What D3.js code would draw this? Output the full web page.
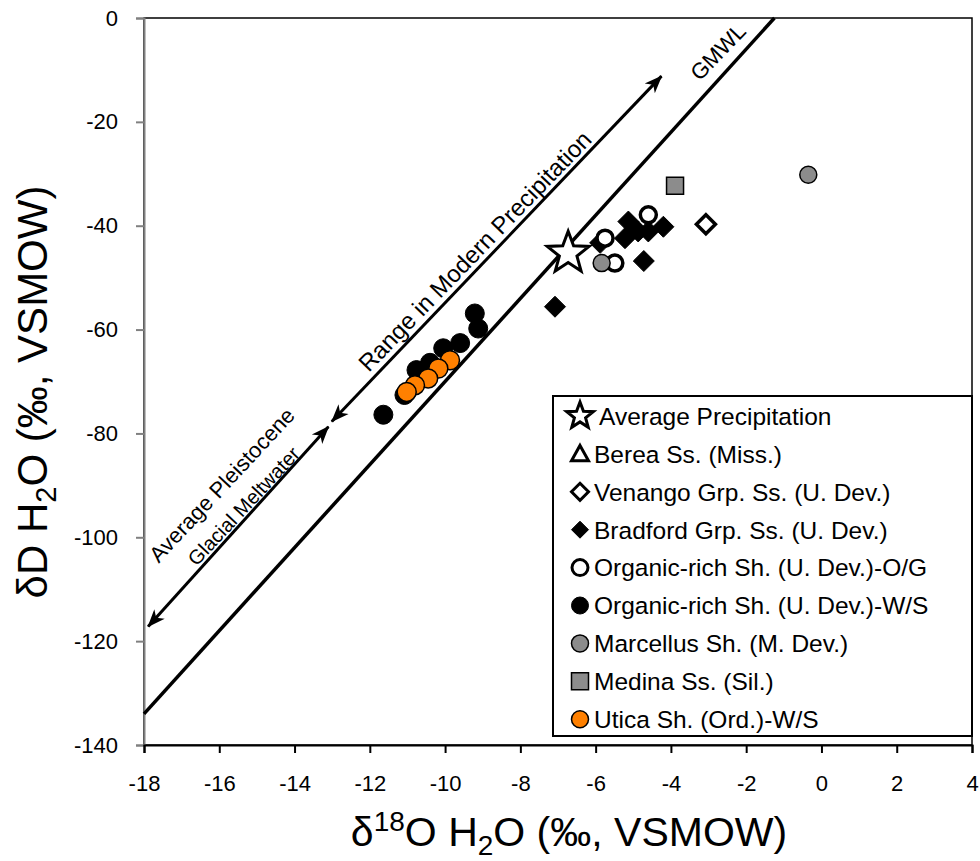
<!DOCTYPE html>
<html>
<head>
<meta charset="utf-8">
<script src="https://cdn.jsdelivr.net/npm/d3@7"></script>
<style>
  body { margin: 0; background: #fff; }
  svg text { font-family: "Liberation Sans", Arial, sans-serif; fill: #000; }
</style>
</head>
<body>
<svg id="chart" width="980" height="861"></svg>
<script>
// tick values
const xTicks = [-18, -16, -14, -12, -10, -8, -6, -4, -2, 0, 2, 4];
const yTicks = [0, -20, -40, -60, -80, -100, -120, -140];

// samples as [d18O, dD]
const avgPrecip = [[-6.73, -45.3]];
const berea = [];
const venango = [[-3.07, -39.7]];
const bradford = [[-7.08, -55.6], [-4.72, -46.8], [-5.13, -39.2], [-5.22, -42.4],
                  [-4.87, -41.1], [-4.60, -41.1], [-4.20, -40.2], [-5.88, -43.3]];
const organicOG = [[-4.60, -37.9], [-5.75, -42.4], [-5.49, -47.2]];
const organicWS = [[-9.21, -56.9], [-9.12, -59.8], [-9.60, -62.6], [-10.05, -63.6],
                   [-10.40, -66.4], [-10.76, -67.8], [-11.08, -72.6], [-11.64, -76.4]];
const marcellus = [[-0.35, -30.2], [-5.84, -47.2]];
const medina = [[-3.89, -32.3]];
const utica = [[-9.87, -65.9], [-10.18, -67.5], [-10.45, -69.4], [-10.80, -70.7], [-11.02, -72.0]];

const seriesNames = ['Average Precipitation', 'Berea Ss. (Miss.)', 'Venango Grp. Ss. (U. Dev.)',
  'Bradford Grp. Ss. (U. Dev.)', 'Organic-rich Sh. (U. Dev.)-O/G', 'Organic-rich Sh. (U. Dev.)-W/S',
  'Marcellus Sh. (M. Dev.)', 'Medina Ss. (Sil.)', 'Utica Sh. (Ord.)-W/S'];
const seriesData = [avgPrecip, berea, venango, bradford, organicOG, organicWS, marcellus, medina, utica];

// annotation lines, in data units
const gmwlRange = [-18, -1.25]; // GMWL: dD = 8 * d18O + 10
const rangeArrow = [[-13.01, -77.7], [-4.25, -11.2]];
const pleistoArrow = [[-13.10, -78.7], [-17.89, -117.2]];

const svg = d3.select('#chart');
const plotLeft = 144, plotRight = 972, plotTop = 18, plotBottom = 745;

const x = d3.scaleLinear().domain([-18, 4]).range([plotLeft, plotRight]);
const y = d3.scaleLinear().domain([-140, 0]).range([plotBottom, plotTop]);

// marker styles per series
const styles = [
  {shape: 'star', size: 22, fill: '#fff', stroke: '#000', sw: 3},
  {shape: 'triangle', size: 9, fill: '#fff', stroke: '#000', sw: 3.5},
  {shape: 'diamond', size: 9.5, fill: '#fff', stroke: '#000', sw: 3.5},
  {shape: 'diamond', size: 10.5, fill: '#000', stroke: '#000', sw: 1},
  {shape: 'circle', size: 8, fill: '#fff', stroke: '#000', sw: 3.5},
  {shape: 'circle', size: 9.5, fill: '#000', stroke: '#000', sw: 1},
  {shape: 'circle', size: 8.5, fill: '#8c8c8c', stroke: '#000', sw: 1.5},
  {shape: 'square', size: 8.5, fill: '#8c8c8c', stroke: '#000', sw: 1.5},
  {shape: 'circle', size: 9.5, fill: '#ff8000', stroke: '#000', sw: 1.5}
];

function shapePath(shape, s) {
  if (shape === 'circle') {
    const p = d3.path();
    p.arc(0, 0, s, 0, 2 * Math.PI);
    return p.toString();
  }
  if (shape === 'square') return `M${-s},${-s}H${s}V${s}H${-s}Z`;
  if (shape === 'diamond') return `M0,${-s}L${s},0L0,${s}L${-s},0Z`;
  if (shape === 'triangle') return `M0,${-s}L${s},${s * 0.8}L${-s},${s * 0.8}Z`;
  // 5 point star
  const pts = d3.range(10).map(i => {
    const r = i % 2 ? s * 0.42 : s;
    const a = -Math.PI / 2 + i * Math.PI / 5;
    return [r * Math.cos(a), r * Math.sin(a)];
  });
  return 'M' + pts.join('L') + 'Z';
}

// plot area frame
svg.append('rect')
  .attr('x', plotLeft).attr('y', plotTop)
  .attr('width', plotRight - plotLeft).attr('height', plotBottom - plotTop)
  .attr('fill', 'none').attr('stroke', '#000').attr('stroke-width', 1.5);

// axes
const yAxis = svg.append('g')
  .attr('transform', `translate(${plotLeft},0)`)
  .call(d3.axisLeft(y).tickValues(yTicks).tickSize(8).tickPadding(18).tickFormat(d => String(d)));
yAxis.select('.domain').attr('stroke', '#808080').attr('stroke-width', 2);
yAxis.selectAll('.tick line').attr('stroke', '#808080').attr('stroke-width', 2);
yAxis.selectAll('text').style('font-size', '22px').attr('fill', '#000');

const xAxis = svg.append('g')
  .attr('transform', `translate(0,${plotBottom})`)
  .call(d3.axisBottom(x).tickValues(xTicks).tickSize(8).tickPadding(22).tickFormat(d => String(d)));
xAxis.select('.domain').attr('stroke', '#000').attr('stroke-width', 2);
xAxis.selectAll('.tick line').attr('stroke', '#000').attr('stroke-width', 2);
xAxis.selectAll('text').style('font-size', '22px').attr('fill', '#000');

// arrow heads
const defs = svg.append('defs');
defs.append('marker')
  .attr('id', 'head')
  .attr('markerUnits', 'userSpaceOnUse')
  .attr('viewBox', '0 -8 18 16')
  .attr('refX', 17).attr('refY', 0)
  .attr('markerWidth', 18).attr('markerHeight', 16)
  .attr('orient', 'auto-start-reverse')
  .append('path')
  .attr('d', 'M0,-7L18,0L0,7L5,0Z')
  .attr('fill', '#000');

const plot = svg.append('g');

// GMWL
const line = d3.line().x(d => x(d[0])).y(d => y(d[1]));
plot.append('path')
  .datum(gmwlRange.map(v => [v, 8 * v + 10]))
  .attr('d', line)
  .attr('fill', 'none').attr('stroke', '#000').attr('stroke-width', 3.5);

[rangeArrow, pleistoArrow].forEach(arr => {
  plot.append('path')
    .datum(arr)
    .attr('d', line)
    .attr('fill', 'none').attr('stroke', '#000').attr('stroke-width', 3)
    .attr('marker-start', 'url(#head)')
    .attr('marker-end', 'url(#head)');
});

// rotated labels
function label(dx, dy, angle, size, txt) {
  plot.append('text')
    .attr('transform', `translate(${x(dx)},${y(dy)}) rotate(${angle})`)
    .attr('text-anchor', 'middle')
    .attr('dy', '0.35em')
    .style('font-size', size + 'px')
    .text(txt);
}
label(-9.21, -44.9, -46, 24, 'Range in Modern Precipitation');
label(-2.75, -6.5, -46, 22, 'GMWL');
label(-15.93, -89.9, -47, 22, 'Average Pleistocene');
label(-15.35, -94.0, -47, 20, 'Glacial Meltwater');

// data points
seriesData.forEach((data, i) => {
  const st = styles[i];
  plot.append('g')
    .selectAll('path')
    .data(data)
    .join('path')
    .attr('transform', d => `translate(${x(d[0])},${y(d[1])})`)
    .attr('d', shapePath(st.shape, st.size))
    .attr('fill', st.fill)
    .attr('stroke', st.stroke)
    .attr('stroke-width', st.sw)
    .attr('stroke-linejoin', 'miter');
});

// legend
const legend = svg.append('g');
legend.append('rect')
  .attr('x', 553).attr('y', 396)
  .attr('width', plotRight - 553).attr('height', 340)
  .attr('fill', '#fff').attr('stroke', '#000').attr('stroke-width', 2);

seriesNames.forEach((name, i) => {
  const st = styles[i];
  const cy = 416 + i * 37.9;
  const s = st.shape === 'star' ? 14 : Math.min(st.size, 8.5);
  legend.append('path')
    .attr('transform', `translate(580,${cy})`)
    .attr('d', shapePath(st.shape, s))
    .attr('fill', st.fill)
    .attr('stroke', st.stroke)
    .attr('stroke-width', Math.min(st.sw, 3));
  legend.append('text')
    .attr('x', i === 0 ? 599 : 594)
    .attr('y', cy)
    .attr('dy', '0.36em')
    .style('font-size', '24.5px')
    .text(name);
});

// axis titles
const yTitle = svg.append('text')
  .attr('transform', 'translate(47,392) rotate(-90)')
  .attr('text-anchor', 'middle')
  .style('font-size', '42px');
yTitle.append('tspan').text('\u03B4D H');
yTitle.append('tspan').attr('dy', 9).style('font-size', '29px').text('2');
yTitle.append('tspan').attr('dy', -9).text('O (\u2030, VSMOW)');

const xTitle = svg.append('text')
  .attr('x', 569).attr('y', 846)
  .attr('text-anchor', 'middle')
  .style('font-size', '41px');
xTitle.append('tspan').text('\u03B4');
xTitle.append('tspan').attr('dy', -15).style('font-size', '28px').text('18');
xTitle.append('tspan').attr('dy', 15).text('O H');
xTitle.append('tspan').attr('dy', 9).style('font-size', '28px').text('2');
xTitle.append('tspan').attr('dy', -9).text('O (\u2030, VSMOW)');
</script>
</body>
</html>
